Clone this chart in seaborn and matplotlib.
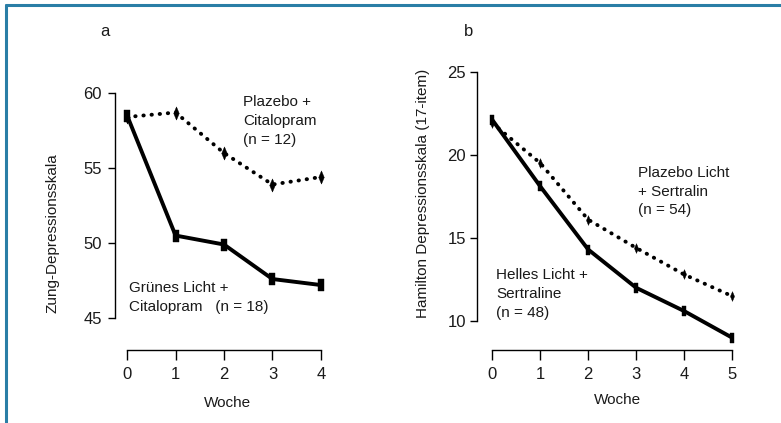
import matplotlib
matplotlib.use("Agg")
import matplotlib.pyplot as plt
import seaborn as sns
import pandas as pd
from matplotlib.lines import Line2D

# ---- data ----
weeks_a = [0, 1, 2, 3, 4]
green_citalopram = [58.5, 50.5, 49.9, 47.6, 47.2]
placebo_citalopram = [58.4, 58.7, 56.0, 53.9, 54.4]

weeks_b = [0, 1, 2, 3, 4, 5]
bright_sertraline = [22.1, 18.1, 14.3, 12.0, 10.6, 9.0]
placebo_sertraline = [21.9, 19.5, 16.1, 14.4, 12.8, 11.5]

yticks_a = [45, 50, 55, 60]
yticks_b = [10, 15, 20, 25]

sns.set_theme(style="white")
plt.rcParams['font.family'] = ["Liberation Sans", "DejaVu Sans"]

W, H = 781, 423
fig = plt.figure(figsize=(W / 100, H / 100), dpi=100)
fig.patch.set_facecolor("white")

def px_axes(left, right, top, bottom):
    return fig.add_axes([left / W, 1 - bottom / H, (right - left) / W, (bottom - top) / H])

def fx(x):
    return x / W

def fy(y):
    return 1 - y / H

# Border lines (top and left)
fig.add_artist(Line2D([fx(6), 1], [fy(5), fy(5)], color="#2a7ea6", lw=2.2, transform=fig.transFigure))
fig.add_artist(Line2D([fx(6), fx(6)], [fy(5), 0], color="#2a7ea6", lw=2.2, transform=fig.transFigure))

tick_fs = 12
txt_fs = 11
lw = 2.8
tc = "#1a1a1a"

def style_axes(ax, xt, yt, xb, yb, ypad):
    for s in ["top", "right"]:
        ax.spines[s].set_visible(False)
    for s in ["left", "bottom"]:
        ax.spines[s].set_color("black")
        ax.spines[s].set_linewidth(1.0)
    ax.spines["left"].set_bounds(*yb)
    ax.spines["bottom"].set_bounds(*xb)
    ax.set_xticks(xt)
    ax.set_yticks(yt)
    ax.tick_params(axis="both", which="major", direction="out", color="black",
                   labelsize=tick_fs, labelcolor=tc, bottom=True, left=True)
    ax.tick_params(axis="x", length=7, width=1.0, pad=5)
    ax.tick_params(axis="y", length=5, width=1.0, pad=ypad)
    ax.set_facecolor("none")
    ax.grid(False)
    ax.set_xlabel("")
    ax.set_ylabel("")

dotted = (0, (0.1, 2.0))
diamond = [(0, -1), (0.42, 0), (0, 1), (-0.42, 0), (0, -1)]
rect = [(-0.5, -1), (0.5, -1), (0.5, 1), (-0.5, 1), (-0.5, -1)]

# ---- Panel a ----
axa = px_axes(115, 333, 85.5, 350)
axa.set_xlim(-0.25, 4.25)
axa.set_ylim(42.87, 60.5)
dfa = pd.DataFrame({"Woche": weeks_a, "green": green_citalopram, "placebo": placebo_citalopram})
sns.lineplot(data=dfa, x="Woche", y="placebo", ax=axa, color="black", lw=lw,
             linestyle=dotted, dash_capstyle="round", marker=diamond, markersize=9.5,
             markeredgewidth=0.3, markeredgecolor="black", markerfacecolor="black")
sns.lineplot(data=dfa, x="Woche", y="green", ax=axa, color="black", lw=lw,
             marker=rect, markersize=8.5, markeredgewidth=0.3,
             markeredgecolor="black", markerfacecolor="black")
style_axes(axa, weeks_a, yticks_a, (0, 4), (45, 60), 4.5)

# ---- Panel b ----
axb = px_axes(477.3, 744, 66.7, 350)
axb.set_xlim(-0.313, 5.25)
axb.set_ylim(8.255, 25.3)
dfb = pd.DataFrame({"Woche": weeks_b, "bright": bright_sertraline, "placebo": placebo_sertraline})
sns.lineplot(data=dfb, x="Woche", y="placebo", ax=axb, color="black", lw=lw,
             linestyle=dotted, dash_capstyle="round", marker=diamond, markersize=7,
             markeredgewidth=0.3, markeredgecolor="black", markerfacecolor="black")
sns.lineplot(data=dfb, x="Woche", y="bright", ax=axb, color="black", lw=lw,
             marker=rect, markersize=6.5, markeredgewidth=0.3,
             markeredgecolor="black", markerfacecolor="black")
style_axes(axb, weeks_b, yticks_b, (0, 5), (10, 25), 3)

# ---- texts ----
ls = 1.45
fig.text(fx(105), fy(32), "a", fontsize=12, color=tc, ha="center", va="center")
fig.text(fx(469), fy(32), "b", fontsize=12, color=tc, ha="center", va="center")

fig.text(fx(243), fy(121), "Plazebo +\nCitalopram\n(n = 12)", fontsize=txt_fs, color=tc,
         ha="left", va="center", linespacing=ls)
fig.text(fx(129), fy(297.5), "Grünes Licht +\nCitalopram   (n = 18)", fontsize=txt_fs, color=tc,
         ha="left", va="center", linespacing=ls)
fig.text(fx(638), fy(191.5), "Plazebo Licht\n+ Sertralin\n(n = 54)", fontsize=txt_fs, color=tc,
         ha="left", va="center", linespacing=ls)
fig.text(fx(496), fy(294), "Helles Licht +\nSertraline\n(n = 48)", fontsize=txt_fs, color=tc,
         ha="left", va="center", linespacing=ls)

fig.text(fx(227), fy(403), "Woche", fontsize=txt_fs, color=tc, ha="center", va="center")
fig.text(fx(618), fy(400), "Woche", fontsize=txt_fs, color=tc, ha="center", va="center")
fig.text(fx(53), fy(233), "Zung-Depressionsskala", fontsize=txt_fs, color=tc,
         ha="center", va="center", rotation=90)
fig.text(fx(423), fy(193), "Hamilton Depressionsskala (17-item)", fontsize=txt_fs, color=tc,
         ha="center", va="center", rotation=90)

fig.savefig("out.png", dpi=100, facecolor="white")
